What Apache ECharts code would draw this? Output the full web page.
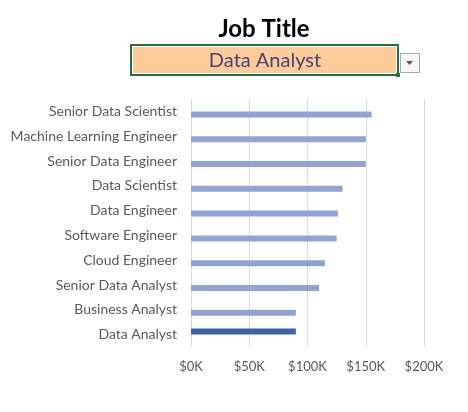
<!DOCTYPE html>
<html>
<head>
<meta charset="UTF-8">
<title>Job Title</title>
<script src="https://cdn.jsdelivr.net/npm/echarts/dist/echarts.min.js"></script>
<style>
    html, body { margin: 0; padding: 0; background: #fff; }
    #chart { width: 468px; height: 412px; }
</style>
</head>
<body>
<div id="chart"></div>
<script>
    // bottom to top, as in the sheet
    const jobTitles = ['Data Analyst', 'Business Analyst', 'Senior Data Analyst', 'Cloud Engineer',
        'Software Engineer', 'Data Engineer', 'Data Scientist', 'Senior Data Engineer',
        'Machine Learning Engineer', 'Senior Data Scientist'];
    const medianSalary = [90000, 90000, 110000, 115000, 125000, 126000, 130000, 150000, 150000, 155000];
    const selectedTitle = 'Data Analyst';
    const xTicks = [0, 50000, 100000, 150000, 200000];

    const otherValues = medianSalary.map((v, i) => jobTitles[i] === selectedTitle ? '-' : v);
    const selectedValues = medianSalary.map((v, i) => jobTitles[i] === selectedTitle ? v : '-');

    const font = 'Lato, "Open Sans", sans-serif';
    const chart = echarts.init(document.getElementById('chart'));
    chart.setOption({
        animation: false,
        textStyle: { fontFamily: font },
        grid: { left: 191, right: 44, top: 99, bottom: 65 },
        graphic: [
            {
                type: 'text', x: 264, y: 29,
                style: { text: 'Job Title', fontSize: 24, fontWeight: 'bold', fill: '#000', fontFamily: font,
                    align: 'center', verticalAlign: 'middle' }
            },
            {
                type: 'rect', shape: { x: 131, y: 45, width: 267, height: 30 },
                style: { fill: '#FFCC99', stroke: '#217346', lineWidth: 2 }
            },
            {
                type: 'rect', shape: { x: 132.5, y: 46.5, width: 264, height: 27 },
                style: { fill: 'none', stroke: '#fff', lineWidth: 1 }
            },
            {
                type: 'rect', shape: { x: 396, y: 73, width: 4, height: 4 },
                style: { fill: '#217346' }
            },
            {
                type: 'text', x: 265, y: 61,
                style: { text: selectedTitle, fontSize: 20, fill: '#44447A', fontFamily: font,
                    align: 'center', verticalAlign: 'middle' }
            },
            {
                type: 'rect', shape: { x: 400.5, y: 53.5, width: 19, height: 19 },
                style: { fill: '#F7F7F7', stroke: '#A6A6A6', lineWidth: 1 }
            },
            {
                type: 'polygon', shape: { points: [[406, 61], [413, 61], [409.5, 65]] },
                style: { fill: '#595959' }
            }
        ],
        xAxis: {
            type: 'value',
            min: xTicks[0],
            max: xTicks[xTicks.length - 1],
            interval: xTicks[1] - xTicks[0],
            axisLine: { show: false },
            axisTick: { show: false },
            splitLine: { lineStyle: { color: '#D9D9D9' } },
            axisLabel: {
                color: '#595959', fontSize: 13, margin: 13,
                formatter: v => '$' + (v / 1000) + 'K'
            }
        },
        yAxis: {
            type: 'category',
            data: jobTitles,
            axisLine: { show: false },
            axisTick: { show: false },
            axisLabel: { color: '#595959', fontSize: 14, margin: 14 }
        },
        series: [
            {
                name: 'Selected', type: 'bar', data: selectedValues,
                barWidth: 6, barGap: '0%',
                itemStyle: { color: '#3C62AE' }
            },
            {
                name: 'Other', type: 'bar', data: otherValues,
                barWidth: 6, barGap: '0%',
                itemStyle: { color: '#8FA4D5' }
            }
        ]
    });
</script>
</body>
</html>
